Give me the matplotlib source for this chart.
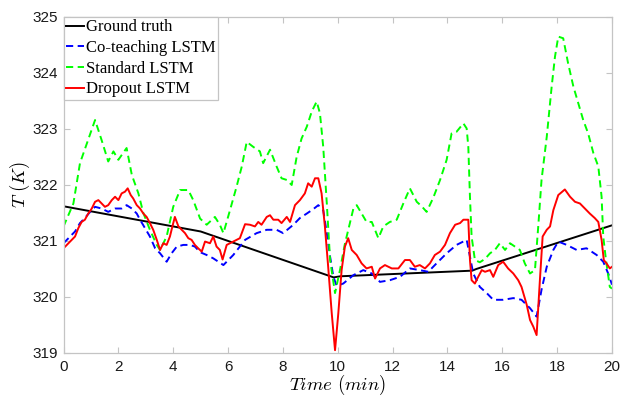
import numpy as np
import matplotlib
matplotlib.use('Agg')
import matplotlib.pyplot as plt

plt.rcParams['mathtext.fontset'] = 'cm'

# ground truth (piecewise linear)
gt_t = [0.0, 5.0, 9.85, 10.1, 14.9, 15.05, 20.0]
gt_T = [321.62, 321.17, 320.35, 320.37, 320.47, 320.50, 321.28]

# Co-teaching LSTM
co_t = [0.00, 0.24, 0.42, 0.60, 0.78, 0.97, 1.15, 1.39, 1.63, 1.88, 2.12, 2.30, 2.49, 2.67, 2.79,
        2.97, 3.15, 3.34, 3.52, 3.76, 3.94, 4.13, 4.37, 4.61, 4.79, 4.98, 5.22, 5.46, 5.83, 6.19,
        6.62, 7.04, 7.41, 7.77, 8.01, 8.38, 8.62, 8.87, 9.11, 9.29, 9.47, 9.60, 9.72, 9.84, 9.96,
        10.20, 10.57, 10.93, 11.24, 11.54, 11.90, 12.27, 12.63, 12.99, 13.30, 13.60, 13.97, 14.33,
        14.70, 14.82, 14.94, 15.18, 15.43, 15.67, 16.03, 16.40, 16.70, 17.01, 17.25, 17.43, 17.62,
        17.86, 18.04, 18.35, 18.71, 19.07, 19.44, 19.68, 19.86, 20.00]
co_T = [320.96, 321.08, 321.17, 321.32, 321.41, 321.52, 321.61, 321.58, 321.52, 321.58, 321.58,
        321.64, 321.58, 321.49, 321.38, 321.23, 321.08, 320.87, 320.78, 320.63, 320.78, 320.90,
        320.93, 320.93, 320.90, 320.80, 320.75, 320.69, 320.57, 320.75, 321.02, 321.14, 321.20,
        321.20, 321.14, 321.29, 321.41, 321.49, 321.57, 321.64, 321.55, 321.14, 320.72, 320.36,
        320.20, 320.24, 320.39, 320.48, 320.42, 320.27, 320.30, 320.36, 320.51, 320.48, 320.45,
        320.60, 320.78, 320.93, 321.02, 320.72, 320.42, 320.18, 320.07, 319.95, 319.95, 319.98,
        319.95, 319.80, 319.65, 320.13, 320.54, 320.84, 320.99, 320.93, 320.84, 320.87, 320.75,
        320.63, 320.42, 320.22]

# Standard LSTM
st_t = [0.00, 0.36, 0.60, 0.85, 1.15, 1.39, 1.63, 1.82, 2.00, 2.30, 2.49, 2.73, 2.91, 3.15, 3.40,
        3.52, 3.76, 4.00, 4.25, 4.55, 4.73, 4.98, 5.22, 5.52, 5.70, 5.83, 6.07, 6.31, 6.50, 6.68,
        6.92, 7.16, 7.28, 7.53, 7.77, 7.95, 8.14, 8.32, 8.50, 8.68, 8.87, 9.05, 9.23, 9.35, 9.47,
        9.60, 9.72, 9.90, 10.08, 10.26, 10.57, 10.69, 11.05, 11.24, 11.48, 11.66, 11.90, 12.15,
        12.39, 12.63, 12.88, 13.06, 13.24, 13.48, 13.73, 13.97, 14.15, 14.33, 14.58, 14.70, 14.76,
        14.82, 14.88, 15.00, 15.18, 15.37, 15.55, 15.73, 15.91, 16.10, 16.28, 16.46, 16.64, 16.82,
        17.01, 17.19, 17.31, 17.43, 17.62, 17.80, 17.92, 18.04, 18.22, 18.40, 18.59, 18.77, 18.95,
        19.13, 19.32, 19.50, 19.62, 19.68, 19.78, 19.92, 20.00]
st_T = [321.26, 321.67, 322.39, 322.74, 323.16, 322.80, 322.42, 322.60, 322.45, 322.66, 322.18,
        321.85, 321.50, 321.20, 320.93, 320.84, 321.08, 321.61, 321.91, 321.91, 321.73, 321.40,
        321.29, 321.43, 321.29, 321.14, 321.55, 321.97, 322.33, 322.77, 322.68, 322.60, 322.39,
        322.63, 322.33, 322.12, 322.09, 322.00, 322.50, 322.83, 323.04, 323.31, 323.49, 323.28,
        322.68, 321.67, 320.66, 320.07, 320.48, 320.95, 321.58, 321.64, 321.34, 321.34, 321.05,
        321.26, 321.34, 321.38, 321.67, 321.94, 321.70, 321.62, 321.52, 321.77, 322.09, 322.45,
        322.92, 322.95, 323.10, 323.01, 322.68, 321.79, 321.08, 320.66, 320.62, 320.68, 320.78,
        320.84, 320.96, 320.84, 320.96, 320.90, 320.84, 320.60, 320.42, 320.48, 321.26, 322.09,
        322.86, 323.76, 324.29, 324.65, 324.62, 324.17, 323.76, 323.46, 323.16, 322.92, 322.57,
        322.33, 321.79, 321.08, 320.66, 320.18, 320.15]

# Dropout LSTM
dr_t = [0.00, 0.18, 0.30, 0.42, 0.54, 0.66, 0.78, 0.90, 1.03, 1.15, 1.27, 1.39, 1.51, 1.63, 1.76,
        1.88, 2.00, 2.12, 2.24, 2.34, 2.45, 2.54, 2.67, 2.79, 2.91, 3.03, 3.15, 3.27, 3.40, 3.52,
        3.64, 3.76, 3.88, 3.97, 4.06, 4.19, 4.31, 4.43, 4.55, 4.67, 4.79, 4.91, 5.04, 5.16, 5.34,
        5.46, 5.58, 5.70, 5.80, 5.95, 6.19, 6.43, 6.62, 6.80, 6.98, 7.10, 7.22, 7.41, 7.53, 7.65,
        7.83, 7.95, 8.14, 8.26, 8.44, 8.62, 8.80, 8.92, 9.05, 9.17, 9.29, 9.41, 9.53, 9.65, 9.78,
        9.90, 10.02, 10.14, 10.26, 10.38, 10.51, 10.69, 10.87, 11.05, 11.24, 11.36, 11.54, 11.72,
        11.97, 12.21, 12.45, 12.63, 12.81, 12.99, 13.18, 13.36, 13.54, 13.73, 13.91, 14.09, 14.28,
        14.46, 14.58, 14.76, 14.82, 14.88, 15.00, 15.12, 15.25, 15.37, 15.55, 15.67, 15.85, 16.03,
        16.21, 16.40, 16.58, 16.70, 16.89, 17.01, 17.13, 17.25, 17.37, 17.47, 17.62, 17.74, 17.86,
        18.04, 18.28, 18.47, 18.65, 18.83, 19.01, 19.19, 19.37, 19.50, 19.62, 19.70, 19.80, 19.92,
        20.00]
dr_T = [320.87, 320.96, 321.02, 321.08, 321.23, 321.34, 321.38, 321.49, 321.58, 321.70, 321.73,
        321.67, 321.61, 321.64, 321.73, 321.79, 321.73, 321.85, 321.88, 321.94, 321.82, 321.76,
        321.64, 321.58, 321.49, 321.43, 321.32, 321.20, 321.02, 320.84, 320.96, 320.93, 321.08,
        321.26, 321.43, 321.26, 321.20, 321.14, 321.05, 321.02, 320.93, 320.87, 320.81, 320.99,
        320.96, 321.08, 320.90, 320.84, 320.67, 320.93, 320.99, 321.05, 321.30, 321.29, 321.26,
        321.34, 321.29, 321.43, 321.46, 321.38, 321.38, 321.32, 321.43, 321.34, 321.64, 321.73,
        321.85, 322.03, 321.97, 322.12, 322.12, 321.85, 321.26, 320.54, 319.71, 319.05, 319.71,
        320.48, 320.90, 321.05, 320.84, 320.75, 320.60, 320.51, 320.54, 320.33, 320.51, 320.57,
        320.51, 320.51, 320.66, 320.66, 320.54, 320.57, 320.51, 320.60, 320.75, 320.81, 320.93,
        321.14, 321.29, 321.32, 321.38, 321.38, 320.66, 320.30, 320.24, 320.36, 320.48, 320.45,
        320.48, 320.36, 320.57, 320.63, 320.51, 320.42, 320.30, 320.18, 319.86, 319.59, 319.47,
        319.32, 320.30, 321.08, 321.20, 321.26, 321.55, 321.82, 321.92, 321.79, 321.70, 321.67,
        321.58, 321.49, 321.41, 321.34, 321.02, 320.66, 320.60, 320.51, 320.54]

fig = plt.figure(figsize=(6.24, 3.96), dpi=100)
ax = fig.add_axes([0.1018, 0.1086, 0.8790, 0.8485])

lw = 1.4
ax.plot(gt_t, gt_T, color='k', lw=lw, label='Ground truth')
ax.plot(co_t, co_T, color='#0000ff', lw=lw, dashes=(3.7, 2.3), label='Co-teaching LSTM')
ax.plot(st_t, st_T, color='#00ff00', lw=lw, dashes=(3.7, 2.3), label='Standard LSTM')
ax.plot(dr_t, dr_T, color='#ff0000', lw=lw, label='Dropout LSTM')

ax.set_xlim(0, 20)
ax.set_ylim(319, 325)
ax.set_xticks(np.arange(0, 21, 2))
ax.set_yticks(np.arange(319, 326, 1))

for s in ax.spines.values():
    s.set_color('#c4c4c4')
    s.set_linewidth(0.9)
ax.tick_params(direction='in', length=4, width=0.8, color='#c4c4c4',
               top=True, right=True, labelsize=11, labelcolor='#1a1a1a')
ax.tick_params(axis='x', pad=5)
ax.tick_params(axis='y', pad=4)
for lab in ax.get_xticklabels() + ax.get_yticklabels():
    lab.set_family('Liberation Sans')

ax.set_xlabel(r'$Time\ (min)$', fontsize=13.5, labelpad=-1)
ax.set_ylabel(r'$T\ (K)$', fontsize=13.5, labelpad=0)

leg = ax.legend(loc='upper left', prop={'family': 'Liberation Serif', 'size': 12},
                handlelength=1.1, handletextpad=0.1, borderpad=0.15, labelspacing=0.28,
                borderaxespad=0.0, fancybox=False, framealpha=1)
leg.get_frame().set_edgecolor('#c4c4c4')
leg.get_frame().set_linewidth(0.9)

fig.savefig('out.png', dpi=100)
